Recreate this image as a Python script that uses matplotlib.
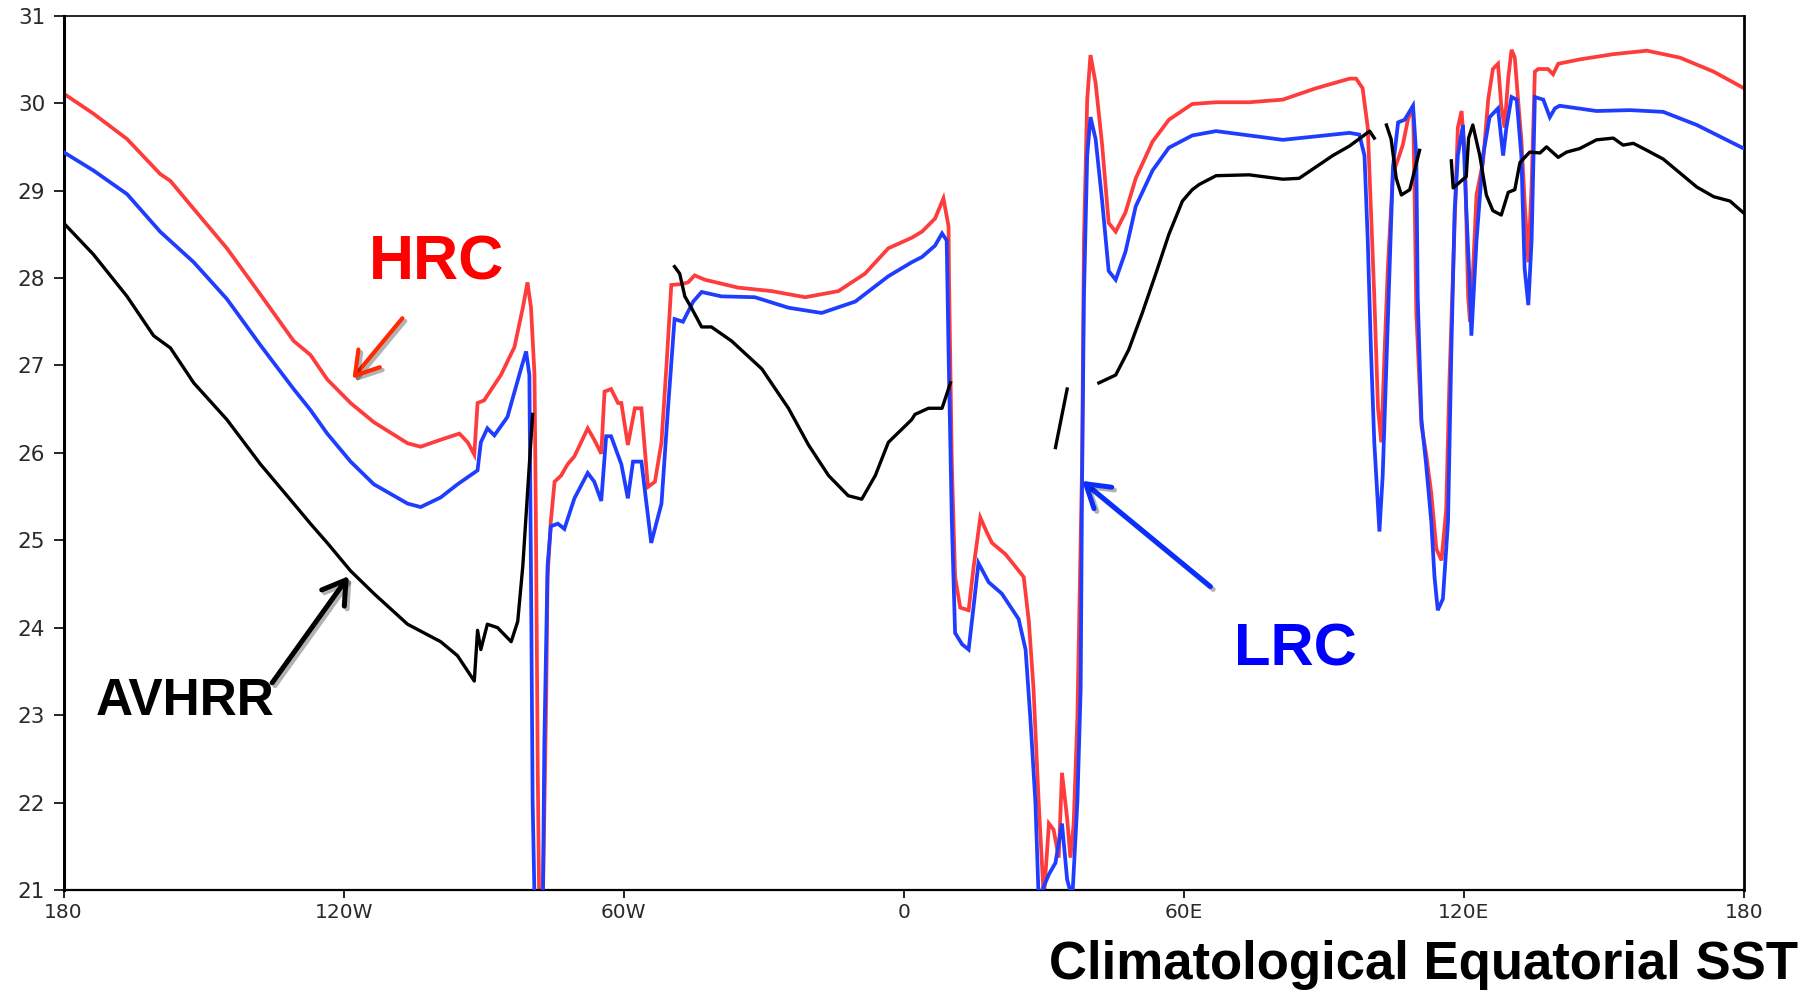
import numpy as np
import matplotlib
matplotlib.use("Agg")
import matplotlib.pyplot as plt
import matplotlib.patheffects as pe

nan = np.nan

# HRC (red) - equatorial SST, longitude -180..180
hrc_lon = [-180.0, -173.6, -166.4, -159.3, -157.1, -152.1, -145.0, -137.8, -130.7, -127.1,
           -123.5, -118.5, -113.5, -106.3, -103.5, -99.2, -95.2, -93.4, -92.0, -91.3,
           -89.9, -86.3, -83.4, -81.6, -80.6, -79.85, -79.1, -78.8, -78.4, -78.1,
           -77.3, -76.6, -76.3, -75.6, -74.8, -73.4, -72.0, -70.55, -67.7, -66.3,
           -64.8, -64.1, -62.7, -61.2, -60.5, -59.1, -57.6, -56.2, -54.8, -53.3,
           -51.9, -50.8, -49.8, -47.6, -46.2, -44.8, -42.6, -35.5, -28.3, -21.1,
           -14.0, -8.3, -3.3, 1.7, 3.9, 6.7, 8.5, 9.6, 9.7, 10.3,
           11.0, 12.1, 13.9, 15.0, 16.4, 17.8, 18.9, 21.8, 25.7, 26.8,
           27.8, 28.9, 30.0, 31.1, 32.1, 33.2, 33.9, 35.0, 35.7, 36.4,
           37.2, 38.2, 38.6, 39.3, 40.0, 41.1, 42.5, 43.9, 45.4, 47.5,
           49.7, 53.3, 56.8, 61.8, 66.9, 74.0, 81.2, 88.3, 95.5, 96.9,
           98.3, 99.4, 100.1, 100.8, 101.6, 102.3, 103.0, 103.7, 104.8, 105.9,
           106.9, 108.0, 109.1, 109.4, 109.8, 110.9, 111.9, 113.0, 114.1, 115.2,
           116.2, 116.9, 117.7, 118.7, 119.5, 120.2, 120.9, 121.3, 121.7, 122.7,
           124.1, 125.2, 126.2, 127.3, 128.0, 128.7, 129.5, 130.2, 130.9, 131.6,
           132.3, 133.0, 133.8, 134.5, 135.2, 135.9, 138.0, 139.1, 140.2, 144.8,
           152.0, 159.2, 166.3, 173.5, 180.0]
hrc_sst = [30.11, 29.88, 29.59, 29.19, 29.11, 28.79, 28.34, 27.81, 27.28, 27.12,
           26.84, 26.57, 26.35, 26.11, 26.07, 26.15, 26.22, 26.12, 25.98, 26.57,
           26.60, 26.89, 27.21, 27.66, 27.95, 27.66, 26.89, 25.22, 22.34, 20.9,
           20.9, 23.17, 24.58, 25.22, 25.67, 25.74, 25.87, 25.96, 26.28, 26.15,
           25.99, 26.70, 26.73, 26.57, 26.57, 26.09, 26.51, 26.51, 25.61, 25.67,
           26.12, 27.02, 27.92, 27.93, 27.95, 28.03, 27.98, 27.89, 27.85, 27.78,
           27.85, 28.05, 28.34, 28.46, 28.53, 28.68, 28.91, 28.59, 27.98, 25.87,
           24.58, 24.23, 24.20, 24.71, 25.26, 25.09, 24.97, 24.84, 24.58, 24.07,
           23.30, 22.01, 20.9, 21.76, 21.69, 21.37, 22.34, 21.82, 21.37, 21.76,
           22.98, 25.87, 28.43, 30.04, 30.55, 30.23, 29.52, 28.63, 28.53, 28.75,
           29.14, 29.56, 29.81, 29.99, 30.01, 30.01, 30.04, 30.17, 30.28, 30.28,
           30.17, 29.72, 28.75, 27.79, 26.51, 26.12, 27.15, 28.11, 29.20, 29.36,
           29.52, 29.81, 29.97, 29.07, 27.60, 26.31, 25.99, 25.54, 24.90, 24.77,
           25.35, 26.83, 28.11, 29.72, 29.91, 29.40, 27.79, 27.50, 27.79, 28.95,
           29.33, 30.04, 30.39, 30.45, 29.97, 29.72, 30.29, 30.61, 30.52, 30.04,
           29.59, 28.88, 28.18, 29.07, 30.36, 30.39, 30.39, 30.33, 30.45, 30.50,
           30.56, 30.60, 30.52, 30.36, 30.17]

# LRC (blue)
lrc_lon = [-180.0, -173.6, -166.4, -159.3, -152.1, -145.0, -137.8, -130.7, -127.1, -123.5,
           -118.5, -113.5, -106.3, -103.5, -99.2, -95.6, -91.3, -90.6, -89.2, -87.7,
           -84.9, -82.0, -80.9, -80.2, -79.85, -79.5, -79.1, -77.3, -77.0, -76.3,
           -75.6, -74.1, -72.7, -70.55, -67.7, -66.3, -64.8, -63.75, -62.7, -60.5,
           -59.1, -58.0, -56.2, -54.1, -51.9, -50.5, -49.1, -47.3, -45.1, -43.3,
           -39.1, -31.9, -24.7, -17.6, -10.4, -3.3, 1.7, 3.9, 6.7, 8.2,
           9.2, 9.6, 10.3, 11.0, 12.5, 13.9, 15.0, 16.0, 18.2, 21.0,
           24.6, 26.1, 27.1, 28.2, 28.9, 31.1, 32.5, 33.9, 35.0, 36.1,
           37.2, 37.9, 38.2, 38.6, 39.3, 40.0, 41.1, 42.5, 43.9, 45.4,
           47.5, 49.7, 53.3, 56.8, 61.8, 66.9, 74.0, 81.2, 88.3, 95.5,
           97.6, 98.7, 99.4, 100.1, 100.8, 101.9, 102.6, 103.4, 104.1, 104.8,
           105.9, 107.3, 109.1, 109.8, 110.1, 110.9, 111.9, 113.0, 113.7, 114.4,
           115.5, 116.6, 117.3, 118.0, 118.7, 119.8, 120.5, 121.2, 121.6, 122.7,
           124.1, 125.5, 127.3, 128.4, 129.1, 130.2, 131.3, 132.3, 133.0, 133.8,
           134.5, 135.2, 137.0, 138.4, 139.5, 140.5, 148.4, 155.6, 162.7, 169.9,
           177.0, 180.0]
lrc_sst = [29.44, 29.23, 28.96, 28.53, 28.18, 27.76, 27.23, 26.73, 26.49, 26.22,
           25.90, 25.64, 25.42, 25.38, 25.49, 25.64, 25.80, 26.12, 26.28, 26.20,
           26.41, 26.96, 27.16, 26.89, 24.58, 22.01, 20.9, 20.9, 22.66, 24.71,
           25.16, 25.19, 25.13, 25.48, 25.77, 25.67, 25.45, 26.19, 26.19, 25.87,
           25.48, 25.90, 25.90, 24.97, 25.42, 26.51, 27.53, 27.50, 27.73, 27.84,
           27.79, 27.78, 27.66, 27.60, 27.73, 28.02, 28.18, 28.24, 28.37, 28.51,
           28.43, 27.15, 25.22, 23.94, 23.81, 23.75, 24.26, 24.74, 24.52, 24.39,
           24.10, 23.75, 22.98, 22.01, 20.9, 21.18, 21.31, 21.76, 21.12, 20.9,
           22.01, 23.30, 25.67, 27.79, 29.40, 29.84, 29.59, 28.88, 28.08, 27.98,
           28.30, 28.82, 29.23, 29.49, 29.63, 29.68, 29.63, 29.58, 29.62, 29.66,
           29.64, 29.40, 28.43, 27.15, 26.12, 25.10, 25.74, 27.02, 28.11, 29.27,
           29.78, 29.81, 29.97, 29.40, 27.79, 26.38, 25.87, 25.22, 24.58, 24.20,
           24.33, 25.22, 27.15, 28.75, 29.40, 29.75, 28.80, 27.98, 27.34, 28.43,
           29.40, 29.84, 29.94, 29.40, 29.72, 30.07, 30.04, 29.40, 28.11, 27.69,
           28.43, 30.07, 30.04, 29.84, 29.94, 29.97, 29.91, 29.92, 29.90, 29.75,
           29.56, 29.48]

# AVHRR (black), NaN marks gaps (land / missing)
avhrr_lon = [-180.0, -173.6, -166.4, -160.7, -157.1, -152.1, -145.0, -137.8, -130.7, -127.1,
             -123.5, -118.5, -113.5, -106.3, -99.2, -95.6, -92.0, -91.3, -90.6, -89.2,
             -87.0, -84.1, -82.7, -81.6, -80.6, -79.5, -65.0,
             -49.1, -48.0, -46.9, -45.5, -43.3, -41.2, -36.9, -30.4, -24.7, -20.4,
             -16.1, -11.9, -9.0, -6.1, -3.3, 1.7, 2.4, 5.3, 8.2, 9.2,
             10.0, 20.0,
             32.5, 35.0, 38.0,
             41.8, 45.4, 48.2, 51.1, 54.0, 56.8, 59.7, 61.8, 63.3, 66.9,
             74.0, 81.2, 84.7, 88.3, 91.9, 95.5, 98.3, 99.8, 100.8, 102.0,
             103.4, 104.4, 105.5, 106.6, 108.4, 110.5, 114.0,
             117.3, 117.7, 120.5, 121.0, 121.9, 123.4, 124.8, 126.2, 128.0, 129.5,
             130.9, 132.0, 134.1, 136.3, 137.7, 140.2, 142.0, 144.8, 148.4, 152.0,
             154.1, 156.3, 159.2, 162.7, 166.3, 169.9, 173.5, 177.0, 180.0]
avhrr_sst = [28.63, 28.27, 27.79, 27.34, 27.20, 26.80, 26.38, 25.87, 25.42, 25.19,
             24.97, 24.65, 24.39, 24.04, 23.84, 23.68, 23.39, 23.97, 23.75, 24.04,
             24.00, 23.84, 24.07, 24.71, 25.54, 26.44, nan,
             28.13, 28.05, 27.79, 27.66, 27.44, 27.44, 27.28, 26.96, 26.51, 26.09,
             25.74, 25.51, 25.47, 25.74, 26.12, 26.38, 26.44, 26.51, 26.51, 26.67,
             26.80, nan,
             26.06, 26.73, nan,
             26.80, 26.89, 27.18, 27.60, 28.05, 28.50, 28.88, 29.01, 29.07, 29.17,
             29.18, 29.13, 29.14, 29.27, 29.40, 29.51, 29.62, 29.68, 29.60, nan,
             29.75, 29.59, 29.14, 28.95, 29.01, 29.46, nan,
             29.34, 29.03, 29.16, 29.60, 29.75, 29.40, 28.95, 28.77, 28.72, 28.98,
             29.01, 29.32, 29.44, 29.43, 29.50, 29.38, 29.44, 29.48, 29.58, 29.60,
             29.52, 29.54, 29.46, 29.36, 29.20, 29.04, 28.93, 28.88, 28.74]

xticks = [-180, -120, -60, 0, 60, 120, 180]
xticklabels = ["180", "120W", "60W", "0", "60E", "120E", "180"]
yticks = list(range(21, 32))

RED = "#FF3C3C"
BLUE = "#1F3DFF"

W, H = 1819, 990
fig = plt.figure(figsize=(W / 100, H / 100), dpi=100)
ax = fig.add_axes([63.5 / W, 1 - 890 / H, (1744 - 63.5) / W, (890 - 15.7) / H])

ax.plot(hrc_lon, hrc_sst, color=RED, lw=2.7, solid_joinstyle="miter", zorder=2)
ax.plot(lrc_lon, lrc_sst, color=BLUE, lw=2.7, solid_joinstyle="miter", zorder=3)
ax.plot(avhrr_lon, avhrr_sst, color="black", lw=2.4, zorder=4)

ax.set_xlim(-180, 180)
ax.set_ylim(21, 31)
ax.set_xticks(xticks)
ax.set_xticklabels(xticklabels)
ax.set_yticks(yticks)
ax.tick_params(axis="y", length=7.2, width=1.2, pad=6, labelsize=15.5, labelcolor="#2a2a2a")
ax.tick_params(axis="x", length=5.5, width=1.2, pad=4, labelsize=14.5, labelcolor="#2a2a2a")
for lab in ax.get_xticklabels() + ax.get_yticklabels():
    lab.set_family("DejaVu Sans")

ax.spines["left"].set_linewidth(2.2)
ax.spines["bottom"].set_linewidth(1.6)
ax.spines["right"].set_linewidth(2.0)
ax.spines["top"].set_linewidth(1.2)

bold = dict(family=["Liberation Sans", "DejaVu Sans"], fontweight="bold")
ax.text(-100.0, 27.98, "HRC", color="#FF0000", fontsize=45, ha="center", va="baseline", **bold)
ax.text(84.0, 23.57, "LRC", color="#0000FF", fontsize=43, ha="center", va="baseline", **bold)
ax.text(-154.0, 23.0, "AVHRR", color="black", fontsize=37, ha="center", va="baseline", **bold)

shadow = [pe.SimpleLineShadow(offset=(2, -2), alpha=0.3), pe.Normal()]
arrow_style = "->,head_length=0.8,head_width=0.5"
ax.annotate("", xy=(-118.1, 26.85), xytext=(-107.4, 27.54),
            arrowprops=dict(arrowstyle=arrow_style, color="#FF2A00", lw=3.0,
                            mutation_scale=20, shrinkA=0, shrinkB=0,
                            path_effects=shadow))
ax.annotate("", xy=(-118.9, 24.59), xytext=(-135.3, 23.37),
            arrowprops=dict(arrowstyle=arrow_style, color="black", lw=3.6,
                            mutation_scale=20, shrinkA=0, shrinkB=0,
                            path_effects=shadow))
ax.annotate("", xy=(38.2, 25.68), xytext=(65.7, 24.47),
            arrowprops=dict(arrowstyle=arrow_style, color="#0A2EFF", lw=3.6,
                            mutation_scale=20, shrinkA=0, shrinkB=0,
                            path_effects=shadow))

fig.text(1798 / W, 1 - 979 / H, "Climatological Equatorial SST", ha="right", va="baseline",
         fontsize=38, color="black", **bold)

fig.savefig("out.png", dpi=100)
